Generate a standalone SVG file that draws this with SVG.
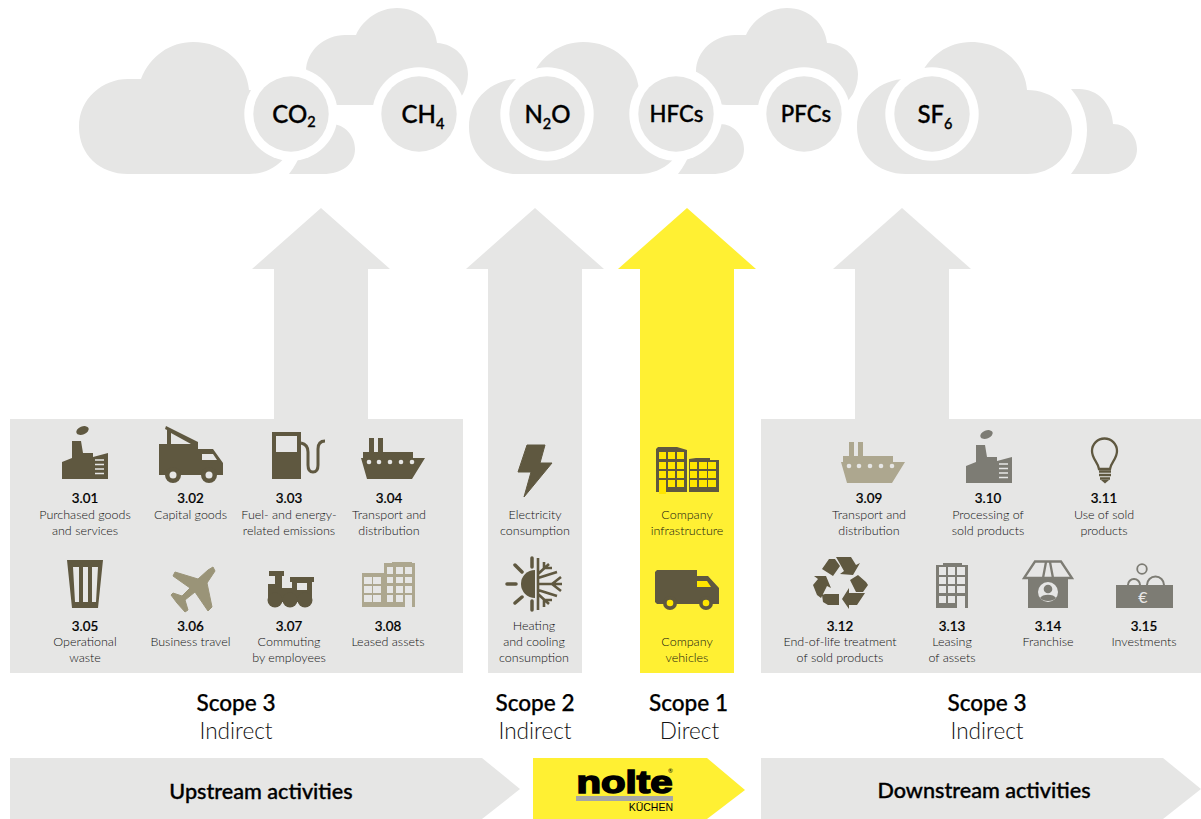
<svg xmlns="http://www.w3.org/2000/svg" width="1201" height="819" viewBox="0 0 1201 819">
<style>
text{font-family:"Lato","Noto Sans","Liberation Sans",sans-serif;text-anchor:middle;fill:#1a1a18}
.n{font-size:13.4px;font-weight:500;fill:#000;stroke:#000;stroke-width:.2px}
.l{font-size:12.5px;font-weight:300;fill:#111}
.g{font-size:24px;font-weight:500;fill:#000;stroke:#000;stroke-width:.35px}
.w{font-size:22.200px}
.s{font-size:14.500px}
.sc{font-size:22.600px;font-weight:500;fill:#000;stroke:#000;stroke-width:.25px}
.si{font-size:22.600px;font-weight:300;fill:#111}
.a{font-size:21.600px;font-weight:500;fill:#000;stroke:#000;stroke-width:.35px}
.bg{fill:#e6e6e5}
.d{fill:#5f5840}.m{fill:#9a9478}.t{fill:#ada78f}.y{fill:#7d7c74}
.h{fill:#e6e6e5}
.hy{fill:#ffe600}
</style>
<defs>
<path id="cloudBig" d="M128,174C100,174 79,155 79,127C79,98 103,79 128,79L141,79C150,56 170,42 193,42C224,42 247,63 249,90C275,90 294,108 294,130C294,155 275,174 249,174Z"/>
<path id="cloudSmall" d="M289,174C300,160 305,145 305,130C305,113 299,101 289,89L297,89C316,89 330,104 331,124C345,124 355,136 355,149C355,164 342,174 323,174Z"/>
<path id="cloudUp" d="M337,105C318,105 306,90 306,72C306,50 325,35 345,35L356,35C363,19 380,8 397,8C419,8 435,24 437,43C455,44 468,58 468,74C468,81 466,88 463,94L455,105Z"/>
<g id="factory">
<path d="M62,462L72,458L72,441L81,441L83,453L93,453L93,457L108,453L108,479L62,479Z"/>
<ellipse cx="82.500" cy="430.500" rx="6.500" ry="4" transform="rotate(-22 82.500 430.500)"/>
<path d="M95,460H104M95,464.500H104M95,469H104M95,473.500H104" stroke="#e6e6e5" stroke-width="1.600" fill="none"/>
</g>
<g id="ship">
<path d="M369,438H374V452H378V438H383V452H413V458H425L412,479H367L361,458H363V452H369Z"/>
<g fill="#e6e6e5"><circle cx="369" cy="462" r="2.300"/><circle cx="379" cy="462" r="2.300"/><circle cx="390" cy="462" r="2.300"/><circle cx="401" cy="462" r="2.300"/><circle cx="412" cy="462" r="2.300"/></g>
</g>
</defs>

<g id="clouds" class="bg">
<use href="#cloudUp"/><use href="#cloudUp" x="390"/>
<use href="#cloudBig"/><use href="#cloudBig" x="390"/><use href="#cloudBig" x="778"/>
<use href="#cloudSmall"/><use href="#cloudSmall" x="389"/><use href="#cloudSmall" x="782"/>
</g>

<g id="gas-co2"><circle cx="291" cy="114" r="46.700" fill="#fff"/><circle cx="291" cy="114" r="37.700" class="bg"/><text class="g" x="294" y="122.500">CO<tspan class="s" dy="4">2</tspan></text></g>
<g id="gas-ch4"><circle cx="419" cy="114" r="46.700" fill="#fff"/><circle cx="419" cy="114" r="37.700" class="bg"/><text class="g" x="423" y="122.500">CH<tspan class="s" dy="6">4</tspan></text></g>
<g id="gas-n2o"><circle cx="547" cy="114" r="46.700" fill="#fff"/><circle cx="547" cy="114" r="37.700" class="bg"/><text class="g" x="547.500" y="122.500">N<tspan class="s" dy="6">2</tspan><tspan dy="-6">O</tspan></text></g>
<g id="gas-hfcs"><circle cx="676" cy="114" r="46.700" fill="#fff"/><circle cx="676" cy="114" r="37.700" class="bg"/><text class="g w" x="676.500" y="122">HFCs</text></g>
<g id="gas-pfcs"><circle cx="804" cy="114" r="46.700" fill="#fff"/><circle cx="804" cy="114" r="37.700" class="bg"/><text class="g w" x="806" y="122">PFCs</text></g>
<g id="gas-sf6"><circle cx="932" cy="114" r="46.700" fill="#fff"/><circle cx="932" cy="114" r="37.700" class="bg"/><text class="g" x="935" y="122.500">SF<tspan class="s" dy="6">6</tspan></text></g>

<g id="connectors">
<path class="bg" d="M321,208L390,269H368V420H274V269H252Z"/>
<path class="bg" d="M535,208L604,269H582V673H488V269H466Z"/>
<path fill="#fff033" d="M687,208L756,269H734V673H640V269H618Z"/>
<path class="bg" d="M902,208L971,269H949V420H855V269H833Z"/>
</g>

<g id="panels" class="bg"><rect x="10" y="419" width="453" height="254"/><rect x="761" y="419" width="440" height="254"/></g>

<g id="n301"><use href="#factory" class="d"/><text class="n" x="85" y="503">3.01</text><text class="l" x="85" y="518.500">Purchased goods</text><text class="l" x="85" y="534.500">and services</text></g>
<g id="n302"><path class="d" d="M159,444H167V430L165,429L166,426L198,442V449H213L223,463V475H159Z"/><path class="h" d="M171,433V444H191ZM202,454H213L217,460H202Z"/><circle class="d" cx="173" cy="475" r="8"/><circle class="d" cx="209" cy="475" r="8"/><circle class="h" cx="173" cy="475" r="3.500"/><circle class="h" cx="209" cy="475" r="3.500"/><text class="n" x="190.500" y="503">3.02</text><text class="l" x="190.500" y="518.500">Capital goods</text></g>
<g id="n303"><rect class="d" x="272" y="432" width="29" height="47"/><rect class="h" x="276" y="436" width="21" height="16"/><path d="M301,443C306,444 308,447 308,452V465C308,470 310,472 313,472C316,472 318,470 318,465V449C318,444 320,441 325,441" fill="none" stroke="#5f5840" stroke-width="3"/><text class="n" x="289" y="503">3.03</text><text class="l" x="289" y="518.500">Fuel- and energy-</text><text class="l" x="289" y="534.500">related emissions</text></g>
<g id="n304"><use href="#ship" class="d"/><text class="n" x="389" y="503">3.04</text><text class="l" x="389" y="518.500">Transport and</text><text class="l" x="389" y="534.500">distribution</text></g>
<g id="n305"><path class="d" fill-rule="evenodd" d="M67,560H103L98,608H72ZM73,567L75,602H79V567ZM83,567V602H88V567ZM92,567V602H96L98,567Z"/><text class="n" x="85" y="630.500">3.05</text><text class="l" x="85" y="645.500">Operational</text><text class="l" x="85" y="661.500">waste</text></g>
<g id="n306"><path class="m" d="M215,571L207,583L212,607L208,611L195,592L185,600L188,610L185,612L177,603L171,595L173,593L182,596L190,588L173,576L175,572L198,579L208,570L213,567Z" stroke="#9a9478" stroke-linejoin="round"/><text class="n" x="190.500" y="630.500">3.06</text><text class="l" x="190.500" y="645.500">Business travel</text></g>
<g id="n307"><path class="d" d="M269,571H284V576H282V588H292V582H290V577H314V582H312V602H268V584H275V576H269Z"/><circle class="d" cx="275" cy="600" r="7.500"/><circle class="d" cx="290" cy="600" r="7.500"/><circle class="d" cx="305" cy="600" r="7.500"/><rect class="h" x="297" y="583" width="10" height="7"/><text class="n" x="289" y="630.500">3.07</text><text class="l" x="289" y="645.500">Commuting</text><text class="l" x="289" y="661.500">by employees</text></g>
<g id="n308"><path class="t" d="M362,573H384V563H392V562H412V563H415V607H362Z"/><path class="h" d="M364,577h8v7h-8zM373,577h8v7h-8zM364,586h8v7h-8zM373,586h8v7h-8zM364,595h8v7h-8zM373,595h8v7h-8zM387,567h6v7h-6zM396,567h7v7h-7zM405,567h7v7h-7zM387,577h6v6h-6zM396,577h7v6h-7zM405,577h7v6h-7zM387,586h6v7h-6zM396,586h7v7h-7zM405,586h7v7h-7zM387,595h6v7h-6zM396,595h7v7h-7zM405,595h7v12h-7z"/><text class="n" x="388" y="630.500">3.08</text><text class="l" x="388" y="645.500">Leased assets</text></g>

<g id="s2-electricity"><path class="d" d="M527,445H545L540,463H552L524,497L531,472H518Z" stroke="#5f5840" stroke-linejoin="round"/><text class="l" x="535" y="518.500">Electricity</text><text class="l" x="535" y="534.500">consumption</text></g>
<g id="s2-heating"><path class="d" d="M535,570A14,14 0 0 0 535,598Z"/><path d="M532,558V567M532,601V610M507,584H516M515,565L522,572M515,603L522,597" stroke="#5f5840" stroke-width="3.500" stroke-linecap="round" fill="none"/><path d="M538,558V610M538,584H562M552,584L561,577M552,584L561,591M538,574L549,564M544,568V562M544,568H552M538,594L549,604M544,600V607M544,600H552M538,578L557,572M538,590L557,596" stroke="#5f5840" stroke-width="2.600" fill="none"/><text class="l" x="534" y="629.500">Heating</text><text class="l" x="534" y="645.500">and cooling</text><text class="l" x="534" y="661.500">consumption</text></g>

<g id="s1-infrastructure"><path class="d" d="M656,449L658,447H677L687,450V492H656ZM689,459L696,458H710V460H719V492H689Z"/><path class="hy" d="M659,452h7v7h-7zM668,452h7v7h-7zM677,452h7v7h-7zM659,462h7v7h-7zM668,462h7v7h-7zM677,462h7v7h-7zM659,471h7v7h-7zM668,471h7v7h-7zM677,471h7v7h-7zM659,480h7v14h-7zM668,480h7v7h-7zM677,480h7v7h-7zM690,462h7v7h-7zM699,462h8v7h-8zM708,462h8v7h-8zM690,471h7v7h-7zM699,471h8v7h-8zM708,471h8v7h-8zM690,480h7v7h-7zM699,480h8v7h-8zM708,480h8v7h-8z"/><text class="l" x="687" y="518.500">Company</text><text class="l" x="687" y="534.500">infrastructure</text></g>
<g id="s1-vehicles"><path class="d" d="M657,570H697V576H708L719,588V604H657L655,602V572Z"/><path class="hy" d="M697,581H707L711,587H697Z"/><circle class="d" cx="670" cy="603" r="7"/><circle class="d" cx="706" cy="603" r="7"/><circle class="hy" cx="670" cy="603" r="3.300"/><circle class="hy" cx="706" cy="603" r="3.300"/><text class="l" x="687" y="645.500">Company</text><text class="l" x="687" y="661.500">vehicles</text></g>

<g id="n309"><use href="#ship" class="t" x="480" y="4"/><text class="n" x="869" y="503">3.09</text><text class="l" x="869" y="518.500">Transport and</text><text class="l" x="869" y="534.500">distribution</text></g>
<g id="n310"><use href="#factory" class="y" x="904" y="4"/><text class="n" x="988" y="503">3.10</text><text class="l" x="988" y="518.500">Processing of</text><text class="l" x="988" y="534.500">sold products</text></g>
<g id="n311"><path d="M1099,469C1098,462 1092,459 1092,451A12.500,12.500 0 1 1 1117,451C1117,459 1111,462 1110,469Z" fill="none" stroke="#5f5840" stroke-width="2.300"/><path d="M1099,471.500H1111M1099,475H1111M1100,478.500H1110" stroke="#5f5840" stroke-width="2.400"/><path d="M1101,480H1109L1105,483.500Z" class="d"/><text class="n" x="1104" y="503">3.11</text><text class="l" x="1104" y="518.500">Use of sold</text><text class="l" x="1104" y="534.500">products</text></g>

<g id="n312"><path class="d" d="M822,569L829,559H835L840,566L833,576ZM836,557H851L856,565L860,563L853,575L840,574L844,571ZM850,580L858,575L866,582L868,585L863,592H856ZM865,593L857,605H849V609L842,599L849,588V593ZM839,594V605H828L823,602L822,595L825,594ZM826,576L831,588L827,586L821,598L817,595L813,585L818,579L814,576Z"/><text class="n" x="840" y="630.500">3.12</text><text class="l" x="840" y="645.500">End-of-life treatment</text><text class="l" x="840" y="661.500">of sold products</text></g>
<g id="n313"><path class="y" d="M936,565H943V563H962V565H968V608H936Z"/><path class="h" d="M939,567h7v8h-7zM948,567h7v8h-7zM957,567h8v8h-8zM939,577h7v7h-7zM948,577h7v7h-7zM957,577h8v7h-8zM939,586h7v7h-7zM948,586h7v7h-7zM957,586h8v7h-8zM939,596h7v7h-7zM948,596h7v7h-7zM957,596h8v12h-8z"/><text class="n" x="952" y="630.500">3.13</text><text class="l" x="952" y="645.500">Leasing</text><text class="l" x="952" y="661.500">of assets</text></g>
<g id="n314"><rect class="y" x="1028" y="578" width="40" height="30"/><path d="M1024,578H1072L1061,561.500H1035ZM1043,578L1046,562M1053,578L1050,562" fill="none" stroke="#7d7c74" stroke-width="2.300"/><circle class="h" cx="1048" cy="592" r="10"/><circle class="y" cx="1048" cy="589" r="4.300"/><path class="y" d="M1040,598C1042,593.500 1054,593.500 1056,598C1053,602 1043,602 1040,598Z"/><text class="n" x="1048" y="630.500">3.14</text><text class="l" x="1048" y="645.500">Franchise</text></g>
<g id="n315"><rect class="y" x="1116" y="585" width="57" height="23"/><circle cx="1142" cy="569" r="4.800" fill="none" stroke="#7d7c74" stroke-width="1.800"/><path d="M1128,585A6,6 0 0 1 1140,585M1147,585A8.500,8.500 0 0 1 1164,585" fill="none" stroke="#7d7c74" stroke-width="2"/><text x="1143" y="603" style="font-size:16px;fill:#e6e6e5;font-weight:500">€</text><text class="n" x="1144" y="630.500">3.15</text><text class="l" x="1144" y="645.500">Investments</text></g>

<g id="scope-labels">
<text class="sc" x="236" y="710.500">Scope 3</text><text class="si" x="236" y="739">Indirect</text>
<text class="sc" x="535" y="710.500">Scope 2</text><text class="si" x="535" y="739">Indirect</text>
<text class="sc" x="688.500" y="710.500">Scope 1</text><text class="si" x="689.500" y="739">Direct</text>
<text class="sc" x="987" y="710.500">Scope 3</text><text class="si" x="987" y="739">Indirect</text>
</g>

<g id="upstream"><path class="bg" d="M10,758H482L520,789L482,819H10Z"/><text class="a" x="261" y="798.500">Upstream activities</text></g>
<g id="logo"><path fill="#fff033" d="M533,758H707L745,790L707,819H533Z"/><text x="576.500" y="793" textLength="96" lengthAdjust="spacingAndGlyphs" style="font-family:'Liberation Sans',sans-serif;font-size:32px;font-weight:700;fill:#000;stroke:#000;stroke-width:1.600px;text-anchor:start">nolte</text><rect x="576" y="796" width="97" height="5" fill="#a6a6a6"/><text x="670.500" y="773" style="font-size:6px;fill:#000">®</text><text x="673" y="811" style="font-family:'Liberation Sans',sans-serif;font-size:10.500px;fill:#000;text-anchor:end">KÜCHEN</text></g>
<g id="downstream"><path class="bg" d="M761,758H1163L1201,789L1163,819H761Z"/><text class="a" x="984" y="797.500">Downstream activities</text></g>
</svg>
